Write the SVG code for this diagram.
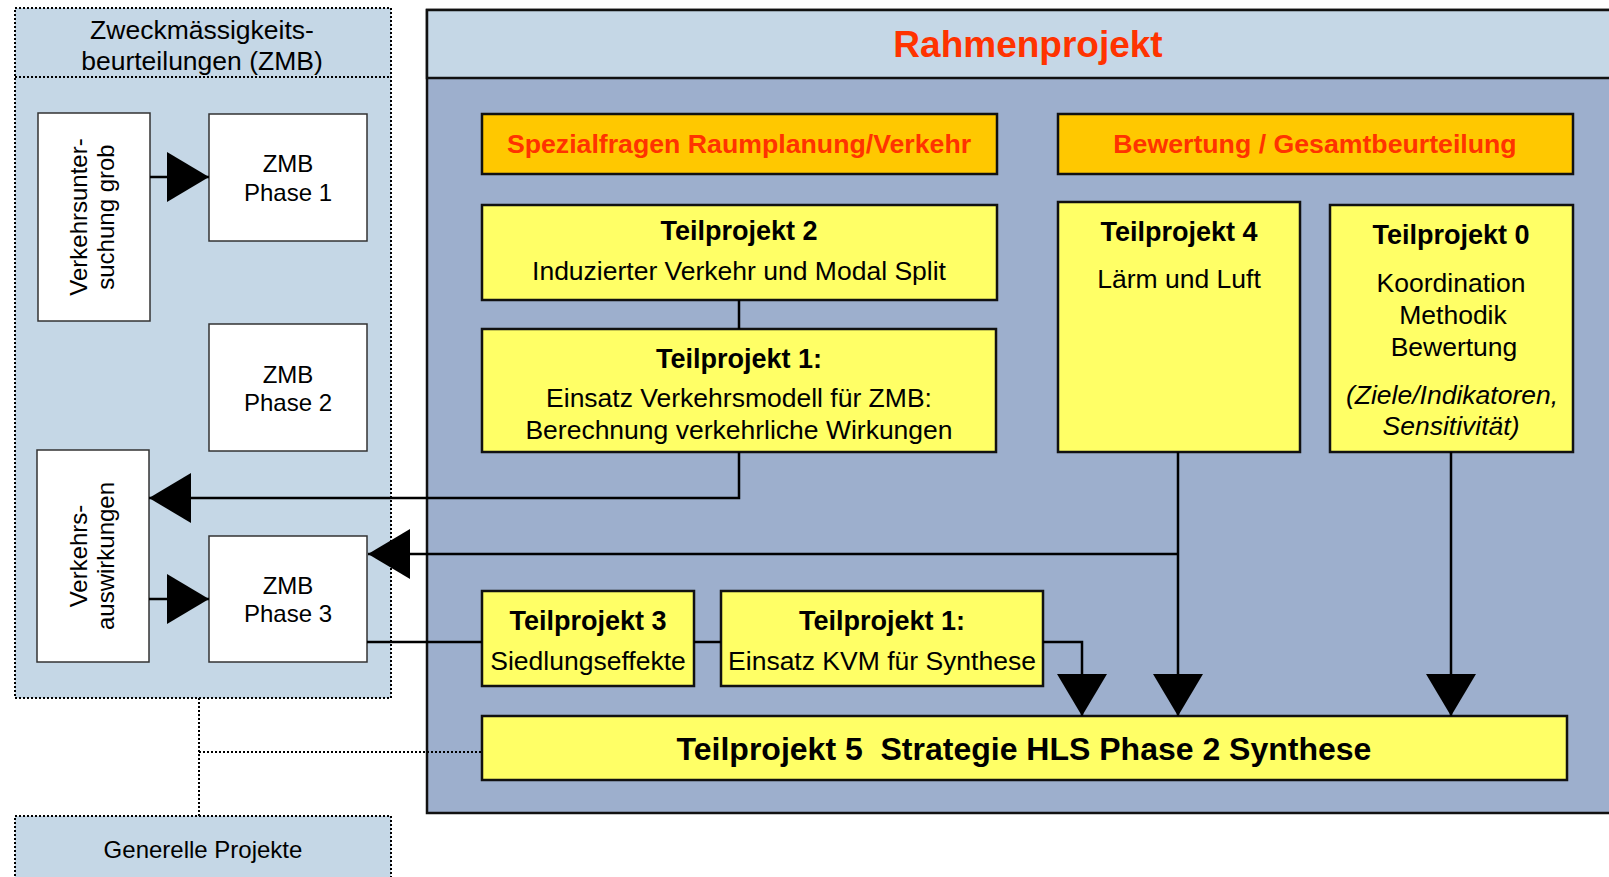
<svg xmlns="http://www.w3.org/2000/svg" width="1609" height="877" viewBox="0 0 1609 877">
<style>
text{font-family:"Liberation Sans",Arial,sans-serif;fill:#000}
.zmb{fill:#C5D7E6;stroke:#000;stroke-width:2;stroke-dasharray:2 2}
.wbox{fill:#fff;stroke:#333;stroke-width:1.5}
.ybox{fill:#FFFF66;stroke:#111;stroke-width:2.5}
.obox{fill:#FFC800;stroke:#111;stroke-width:2.5}
.t24{font-size:24px;text-anchor:middle}
.hd{font-size:26.5px;text-anchor:middle}
.t25{font-size:26.5px;text-anchor:middle}
.b26{font-size:27px;font-weight:bold;text-anchor:middle}
.red{fill:#FF3300;font-weight:bold;text-anchor:middle}
.con{fill:none;stroke:#000;stroke-width:2.5}
.dot{fill:none;stroke:#000;stroke-width:2;stroke-dasharray:2 2}
</style>
<defs>
<marker id="ah" viewBox="0 0 42 50" refX="42" refY="25" markerWidth="42" markerHeight="50" markerUnits="userSpaceOnUse" orient="auto">
<path d="M0,0 L42,25 L0,50 Z" fill="#000"/>
</marker>
</defs>

<g id="zmb-group">
<rect class="zmb" x="15" y="8" width="376" height="690"/>
<line class="dot" x1="15" y1="77" x2="391" y2="77"/>
<text class="hd" x="202" y="39">Zweckmässigkeits-</text>
<text class="hd" x="202" y="70">beurteilungen (ZMB)</text>
</g>

<g id="generelle">
<rect class="zmb" x="15" y="816" width="376" height="80"/>
<text class="t24" x="203" y="858">Generelle Projekte</text>
</g>

<g id="rahmen">
<rect x="427" y="10" width="1200" height="803" fill="#9DAFCD" stroke="#111" stroke-width="2.5"/>
<rect x="427" y="10" width="1200" height="68" fill="#C5D7E6" stroke="#111" stroke-width="2.5"/>
<text class="red" x="1028" y="57" font-size="37">Rahmenprojekt</text>
</g>

<g id="verkehrsuntersuchung">
<rect class="wbox" x="38" y="113" width="112" height="208"/>
<text class="t24" transform="rotate(-90 87 217)" x="87" y="217">Verkehrsunter-</text>
<text class="t24" transform="rotate(-90 114 217)" x="114" y="217">suchung grob</text>
</g>

<g id="zmb1">
<rect class="wbox" x="209" y="114" width="158" height="127"/>
<text class="t24" x="288" y="172">ZMB</text>
<text class="t24" x="288" y="201">Phase 1</text>
</g>

<g id="zmb2">
<rect class="wbox" x="209" y="324" width="158" height="127"/>
<text class="t24" x="288" y="383">ZMB</text>
<text class="t24" x="288" y="411">Phase 2</text>
</g>

<g id="verkehrsauswirkungen">
<rect class="wbox" x="37" y="450" width="112" height="212"/>
<text class="t24" transform="rotate(-90 87 556)" x="87" y="556">Verkehrs-</text>
<text class="t24" transform="rotate(-90 114 556)" x="114" y="556">auswirkungen</text>
</g>

<g id="zmb3">
<rect class="wbox" x="209" y="536" width="158" height="126"/>
<text class="t24" x="288" y="594">ZMB</text>
<text class="t24" x="288" y="622">Phase 3</text>
</g>

<g id="spezialfragen">
<rect class="obox" x="482" y="114" width="515" height="60"/>
<text class="red" x="739" y="153" font-size="26.7">Spezialfragen Raumplanung/Verkehr</text>
</g>

<g id="bewertung">
<rect class="obox" x="1058" y="114" width="515" height="60"/>
<text class="red" x="1315" y="153" font-size="26.7">Bewertung / Gesamtbeurteilung</text>
</g>

<g id="tp2">
<rect class="ybox" x="482" y="205" width="515" height="95"/>
<text class="b26" x="739" y="240">Teilprojekt 2</text>
<text class="t25" x="739" y="280">Induzierter Verkehr und Modal Split</text>
</g>

<g id="tp1a">
<rect class="ybox" x="482" y="329" width="514" height="123"/>
<text class="b26" x="739" y="368">Teilprojekt 1:</text>
<text class="t25" x="739" y="407">Einsatz Verkehrsmodell für ZMB:</text>
<text class="t25" x="739" y="439">Berechnung verkehrliche Wirkungen</text>
</g>

<g id="tp4">
<rect class="ybox" x="1058" y="202" width="242" height="250"/>
<text class="b26" x="1179" y="241">Teilprojekt 4</text>
<text class="t25" x="1179" y="288">Lärm und Luft</text>
</g>

<g id="tp0">
<rect class="ybox" x="1330" y="205" width="243" height="247"/>
<text class="b26" x="1451" y="244">Teilprojekt 0</text>
<text class="t25" x="1451" y="292">Koordination</text>
<text class="t25" x="1453" y="324">Methodik</text>
<text class="t25" x="1454" y="356">Bewertung</text>
<text class="t25" x="1452" y="404" font-style="italic">(Ziele/Indikatoren,</text>
<text class="t25" x="1451" y="435" font-style="italic">Sensitivität)</text>
</g>

<g id="tp3">
<rect class="ybox" x="482" y="591" width="212" height="95"/>
<text class="b26" x="588" y="630">Teilprojekt 3</text>
<text class="t25" x="588" y="670">Siedlungseffekte</text>
</g>

<g id="tp1b">
<rect class="ybox" x="721" y="591" width="322" height="95"/>
<text class="b26" x="882" y="630">Teilprojekt 1:</text>
<text class="t25" x="882" y="670">Einsatz KVM für Synthese</text>
</g>

<g id="tp5">
<rect class="ybox" x="482" y="716" width="1085" height="64"/>
<text x="1024" y="760" font-size="32" font-weight="bold" text-anchor="middle" xml:space="preserve">Teilprojekt 5  Strategie HLS Phase 2 Synthese</text>
</g>

<g id="connectors">
<path class="con" d="M150,177 L209,177" marker-end="url(#ah)"/>
<path class="con" d="M739,300 L739,329"/>
<path class="con" d="M739,452 L739,498 L149,498" marker-end="url(#ah)"/>
<path class="con" d="M1178,452 L1178,716" marker-end="url(#ah)"/>
<path class="con" d="M1178,554 L368,554" marker-end="url(#ah)"/>
<path class="con" d="M1451,452 L1451,716" marker-end="url(#ah)"/>
<path class="con" d="M367,642 L482,642"/>
<path class="con" d="M694,642 L721,642"/>
<path class="con" d="M1043,642 L1082,642 L1082,716" marker-end="url(#ah)"/>
<path class="con" d="M149,599 L209,599" marker-end="url(#ah)"/>
<path class="dot" d="M199,698 L199,816"/>
<path class="dot" d="M199,752 L482,752"/>
</g>
</svg>
